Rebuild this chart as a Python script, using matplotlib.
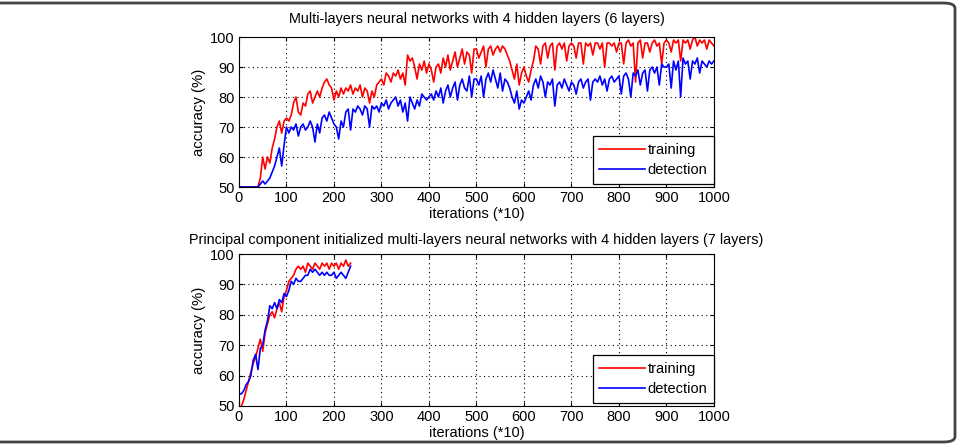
import numpy as np
import matplotlib
matplotlib.use("Agg")
import matplotlib.pyplot as plt
from matplotlib.patches import FancyBboxPatch

# top chart: plain multi-layer network, one value every 5 iterations (*10)
x_top = np.arange(0, 1001, 5)
train_top = [
    50, 50, 50, 50, 50, 50, 50, 50, 50, 53, 60, 56, 60, 58, 63, 66, 70, 72, 68, 72,
    73, 72, 74, 78, 80, 75, 74, 78, 77, 81, 82, 78, 80, 82, 80, 83, 85, 86, 84, 83,
    79, 82, 80, 83, 81, 83, 82, 84, 81, 83, 82, 84, 80, 83, 82, 78, 82, 80, 84, 85,
    86, 84, 88, 87, 85, 88, 87, 89, 86, 88, 84, 94, 92, 93, 90, 86, 91, 89, 92, 88,
    91, 89, 85, 90, 91, 88, 93, 90, 94, 89, 92, 95, 90, 93, 96, 91, 95, 94, 88, 96,
    96, 93, 95, 97, 90, 96, 97, 94, 96, 97, 95, 97, 96, 94, 92, 89, 86, 91, 84, 88,
    90, 87, 85, 89, 92, 97, 96, 91, 97, 98, 93, 97, 98, 89, 97, 98, 96, 98, 92, 97,
    98, 97, 93, 98, 98, 91, 98, 97, 98, 94, 98, 98, 96, 98, 90, 98, 98, 97, 98, 95,
    98, 98, 91, 98, 99, 97, 98, 85, 98, 99, 93, 98, 98, 95, 98, 99, 97, 98, 91, 98,
    99, 98, 95, 99, 98, 99, 92, 99, 98, 99, 96, 99, 100, 97, 99, 98, 99, 96, 99, 98,
    97,
]
detect_top = [
    50, 50, 50, 50, 50, 50, 50, 50, 50, 51, 52, 51, 52, 53, 55, 57, 60, 63, 57, 64,
    70, 68, 70, 69, 71, 67, 70, 71, 69, 70, 72, 70, 65, 71, 68, 73, 74, 72, 75, 73,
    71, 70, 66, 72, 70, 75, 76, 69, 76, 75, 77, 76, 74, 77, 76, 70, 77, 76, 77, 75,
    78, 77, 79, 76, 78, 79, 80, 77, 79, 75, 78, 72, 80, 78, 76, 79, 77, 81, 80, 79,
    80, 81, 79, 82, 80, 83, 78, 82, 84, 80, 83, 85, 79, 84, 86, 83, 82, 87, 80, 86,
    86, 84, 87, 80, 86, 88, 85, 89, 86, 83, 88, 82, 86, 85, 83, 80, 78, 82, 76, 79,
    78, 80, 82, 79, 84, 86, 83, 87, 85, 80, 85, 84, 86, 77, 84, 85, 83, 86, 84, 82,
    85, 84, 81, 85, 86, 83, 85, 86, 79, 85, 86, 85, 87, 84, 86, 82, 86, 87, 85, 86,
    87, 81, 87, 88, 86, 80, 88, 87, 89, 84, 88, 89, 82, 89, 90, 88, 90, 84, 91, 90,
    90, 91, 83, 92, 89, 92, 80, 93, 91, 92, 86, 92, 91, 93, 88, 92, 91, 90, 92, 91,
    92,
]

# bottom chart: principal component initialized network (stops at ~235)
x_bot = np.arange(0, 236, 5)
train_bot = [
    48, 50, 52, 55, 58, 61, 64, 66, 69, 72,
    68, 74, 77, 80, 81, 79, 82, 84, 81, 86,
    88, 91, 92, 93, 95, 96, 95, 96, 94, 97,
    96, 95, 97, 96, 95, 97, 96, 97, 95, 97,
    96, 97, 95, 97, 96, 98, 96, 97,
]
detect_bot = [
    54, 54, 55, 57, 58, 60, 65, 67, 62, 69,
    70, 75, 78, 83, 82, 84, 82, 85, 84, 87,
    86, 88, 91, 90, 92, 91, 91, 92, 93, 93,
    95, 94, 95, 94, 93, 94, 93, 94, 93, 93,
    94, 92, 93, 94, 93, 92, 94, 96,
]

titles = ["Multi-layers neural networks with 4 hidden layers (6 layers)",
          "Principal component initialized multi-layers neural networks with 4 hidden layers (7 layers)"]

plt.rcParams["font.family"] = ["Liberation Sans", "DejaVu Sans"]

fig = plt.figure(figsize=(9.57, 4.44), dpi=100)

# rounded frame around the whole figure (left side runs off the picture)
W, H = 957.0, 444.0
frame = FancyBboxPatch((-20 / W, 2 / H), 975 / W, 439 / H,
                       boxstyle="round,pad=0,rounding_size=0.012",
                       transform=fig.transFigure, fill=False, edgecolor="#444444", linewidth=2)
fig.patches.append(frame)

ax1 = fig.add_axes([0.2497, 0.5788, 0.4963, 0.3378])
ax2 = fig.add_axes([0.2497, 0.0856, 0.4963, 0.3423])

data = [(ax1, x_top, train_top, detect_top, titles[0], 10),
        (ax2, x_bot, train_bot, detect_bot, titles[1], 7)]

for ax, x, tr, de, t, tpad in data:
    ax.plot(x, tr, color="#ff0000", linewidth=1.2, label="training")
    ax.plot(x, de, color="#0000ff", linewidth=1.2, label="detection")
    ax.set_xlim(0, 1000)
    ax.set_ylim(50, 100)
    ax.set_xticks(np.arange(0, 1001, 100))
    ax.set_yticks(np.arange(50, 101, 10))
    ax.grid(True, color="black", linestyle=(0, (1, 3)), linewidth=0.8)
    ax.tick_params(direction="in", labelsize=10.5, length=3, top=True, right=True, pad=3)
    ax.set_title(t, fontsize=10.4, pad=tpad)
    ax.set_xlabel("iterations (*10)", fontsize=10.5, labelpad=1)
    ax.set_ylabel("accuracy (%)", fontsize=10.8, labelpad=3)
    leg = ax.legend(loc="lower right", bbox_to_anchor=(1.0, 0.02), fontsize=10.5,
                    handlelength=3.1, fancybox=False, framealpha=1, borderaxespad=0.0,
                    handletextpad=0.2, labelspacing=0.45, borderpad=0.45)
    leg.get_frame().set_edgecolor("black")
    leg.get_frame().set_linewidth(0.9)

fig.savefig("out.png", dpi=100)
